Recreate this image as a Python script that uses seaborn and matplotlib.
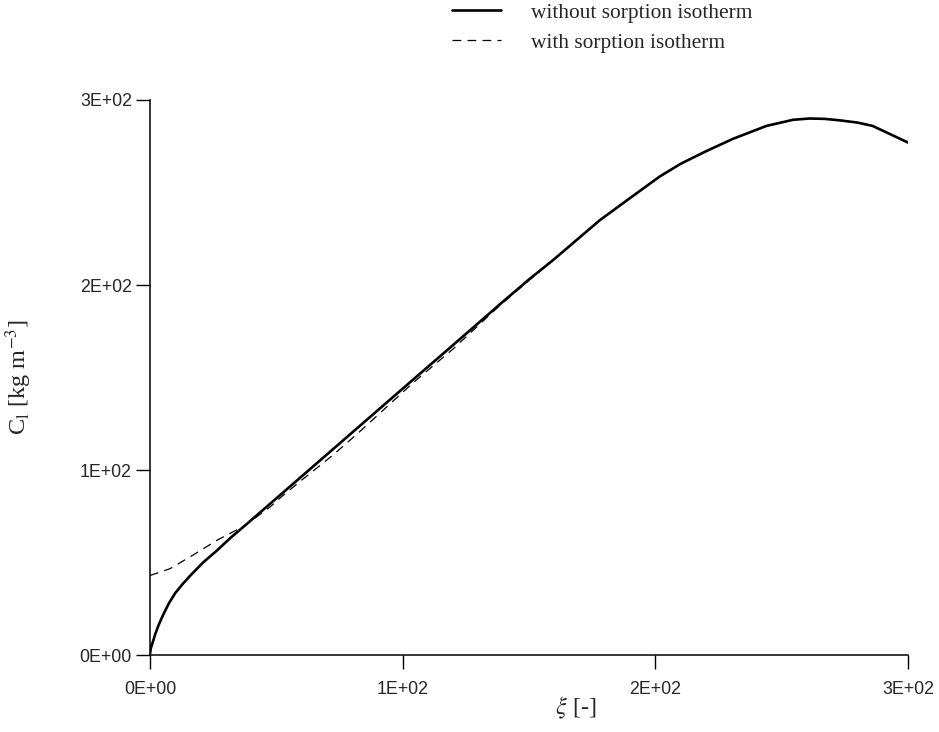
import matplotlib
matplotlib.use("Agg")
import matplotlib.pyplot as plt
import seaborn as sns

# values
xi_without = [0, 0.3, 1, 2, 3.5, 5.3, 7.5, 10, 13, 16, 21, 26.5, 32, 37.6, 47.5,
              59.4, 71.2, 83, 104, 120, 138.5, 150, 160, 178, 190, 201.8, 210,
              219.6, 230.7, 244, 254.5, 261, 267, 273, 280, 286, 293, 300]
c_without = [0.5, 3.5, 6.5, 11, 16.5, 22, 28, 33.5, 38.5, 43, 50, 56.5, 63.5, 70,
             81.7, 95.8, 109.8, 123.8, 148.7, 167.6, 189.6, 203, 214, 235, 247,
             258.7, 265.5, 272, 279, 286, 289.3, 290, 289.8, 289, 287.8, 286,
             281.5, 277]

xi_with = [0, 4, 8, 17, 26.5, 37.6, 47.5, 52, 60, 72, 82, 104, 120, 138.5, 150,
           160, 178, 190, 201.8, 210, 219.6, 230.7, 244, 254.5, 261, 267, 273,
           280, 286, 293, 300]
c_with = [43, 44.8, 46.7, 54, 62, 70, 80, 85.5, 94.5, 107.6, 119.5, 147, 165.5,
          189, 202.5, 214, 235, 247, 258.7, 265.5, 272, 279, 286, 289.3, 290,
          289.8, 289, 287.8, 286, 281.5, 277]

tick_values = [0, 100, 200, 300]
tick_labels = ["0E+00", "1E+02", "2E+02", "3E+02"]

sns.set_style("ticks")
plt.rcParams["mathtext.fontset"] = "stix"

fig = plt.figure(figsize=(9.39, 7.32), dpi=100)
ax = fig.add_axes([150 / 939, 1 - 655 / 732, 758 / 939, 555 / 732])

sns.lineplot(x=xi_without, y=c_without, ax=ax, color="black", linewidth=1.9,
             label="without sorption isotherm")
sns.lineplot(x=xi_with, y=c_with, ax=ax, color="black", linewidth=0.9,
             linestyle=(0, (7, 5)), label="with sorption isotherm")

ax.set_xlim(0, 300)
ax.set_ylim(0, 300)
ax.set_xticks(tick_values)
ax.set_yticks(tick_values)
tick_font = dict(family=["Liberation Sans", "DejaVu Sans"], size=12.8)
ax.set_xticklabels(tick_labels, **tick_font)
ax.set_yticklabels(tick_labels, **tick_font)
ax.tick_params(direction="out", length=10, width=1, color="black")
ax.tick_params(axis="x", pad=9)
ax.tick_params(axis="y", pad=3)
sns.despine(ax=ax)
for s in ["left", "bottom"]:
    ax.spines[s].set_linewidth(1.1)
    ax.spines[s].set_color("black")

label_font = dict(family=["Liberation Serif", "DejaVu Serif"], size=17.5)
ax.set_xlabel(r"$\xi$ [-]", **label_font)
ax.set_ylabel(r"C$_\mathrm{l}$ [kg m$^{\mathrm{-3}}$]", **label_font)
ax.xaxis.set_label_coords(0.561, -0.072)
ax.yaxis.set_label_coords(-0.153, 0.5)

leg = ax.legend(loc="upper left", bbox_to_anchor=(452 / 939, 1 - 3 / 732),
                bbox_transform=fig.transFigure, frameon=False,
                prop={"family": "Liberation Serif", "size": 15.4},
                handlelength=2.3, handletextpad=1.4, labelspacing=0.45,
                borderpad=0, borderaxespad=0)

fig.savefig("out.png", dpi=100)
